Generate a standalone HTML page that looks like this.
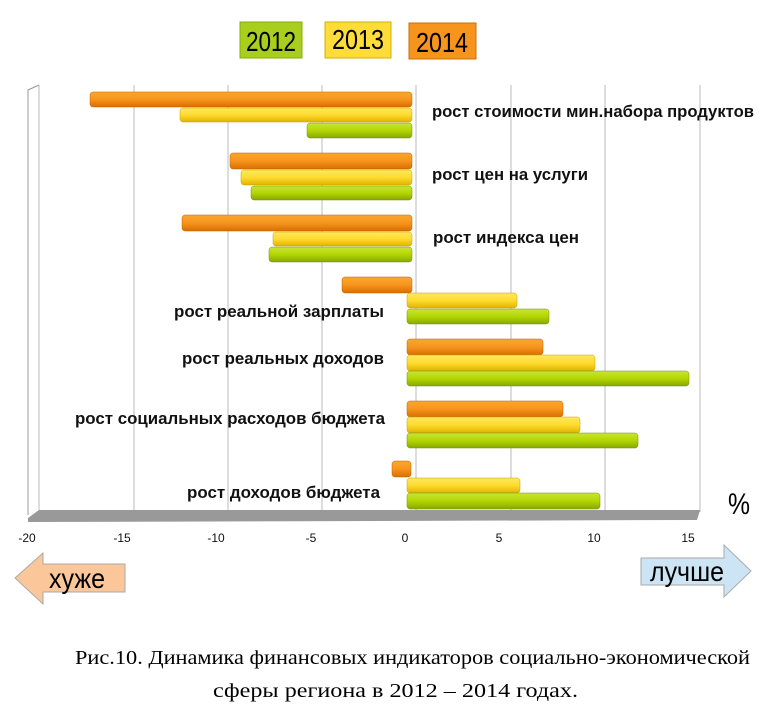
<!DOCTYPE html><html><head><meta charset="utf-8"><style>
body{margin:0;width:782px;height:720px;background:#fff;overflow:hidden;font-family:"Liberation Sans",sans-serif}
</style></head><body>
<svg width="782" height="720" xmlns="http://www.w3.org/2000/svg" style="position:absolute;left:0;top:0">
<defs>
<linearGradient id="o" x1="0" y1="0" x2="0" y2="1"><stop offset="0" stop-color="#f9a830"/><stop offset="0.5" stop-color="#f7941d"/><stop offset="1" stop-color="#d86f00"/></linearGradient>
<linearGradient id="y" x1="0" y1="0" x2="0" y2="1"><stop offset="0" stop-color="#ffe860"/><stop offset="0.5" stop-color="#fedb2e"/><stop offset="1" stop-color="#e0b400"/></linearGradient>
<linearGradient id="g" x1="0" y1="0" x2="0" y2="1"><stop offset="0" stop-color="#c8e43a"/><stop offset="0.5" stop-color="#b3d600"/><stop offset="1" stop-color="#88a800"/></linearGradient>
</defs>
<rect x="240" y="22" width="62" height="36" fill="#a8cf1e" stroke="#8aa800"/>
<text x="246" y="51" font-size="28" textLength="50" lengthAdjust="spacingAndGlyphs">2012</text>
<rect x="325" y="22" width="66" height="36" fill="#fedd3a" stroke="#d0b000"/>
<text x="332" y="49" font-size="28" textLength="52" lengthAdjust="spacingAndGlyphs">2013</text>
<rect x="409" y="23" width="67" height="36" fill="#f7941d" stroke="#c87000"/>
<text x="416" y="52" font-size="28" textLength="52" lengthAdjust="spacingAndGlyphs">2014</text>
<polyline points="28,515 28,90 39,85" fill="none" stroke="#999"/>
<g stroke="#bbb"><line x1="39" y1="85" x2="39" y2="512"/><line x1="134" y1="85" x2="134" y2="512"/><line x1="228" y1="85" x2="228" y2="512"/><line x1="322" y1="85" x2="322" y2="512"/><line x1="416" y1="85" x2="416" y2="512"/><line x1="511" y1="85" x2="511" y2="512"/><line x1="605" y1="85" x2="605" y2="512"/><line x1="700" y1="85" x2="700" y2="512"/></g>
<polygon points="28,518 39,510 700,510 697,520 28,522" fill="#999"/>
<g stroke-width="0.5">
<rect x="90" y="92" width="322" height="15" rx="3" fill="url(#o)" stroke="#c06000"/>
<rect x="180" y="108" width="232" height="14" rx="3" fill="url(#y)" stroke="#c9a000"/>
<rect x="307" y="123" width="105" height="15" rx="3" fill="url(#g)" stroke="#779000"/>
<rect x="230" y="153" width="182" height="16" rx="3" fill="url(#o)" stroke="#c06000"/>
<rect x="241" y="170" width="171" height="15" rx="3" fill="url(#y)" stroke="#c9a000"/>
<rect x="251" y="186" width="161" height="14" rx="3" fill="url(#g)" stroke="#779000"/>
<rect x="182" y="215" width="230" height="16" rx="3" fill="url(#o)" stroke="#c06000"/>
<rect x="273" y="232" width="139" height="14" rx="3" fill="url(#y)" stroke="#c9a000"/>
<rect x="269" y="247" width="143" height="15" rx="3" fill="url(#g)" stroke="#779000"/>
<rect x="342" y="277" width="70" height="16" rx="3" fill="url(#o)" stroke="#c06000"/>
<rect x="407" y="293" width="110" height="15" rx="3" fill="url(#y)" stroke="#c9a000"/>
<rect x="407" y="309" width="142" height="15" rx="3" fill="url(#g)" stroke="#779000"/>
<rect x="407" y="339" width="136" height="16" rx="3" fill="url(#o)" stroke="#c06000"/>
<rect x="407" y="355" width="188" height="16" rx="3" fill="url(#y)" stroke="#c9a000"/>
<rect x="407" y="371" width="282" height="15" rx="3" fill="url(#g)" stroke="#779000"/>
<rect x="407" y="401" width="156" height="16" rx="3" fill="url(#o)" stroke="#c06000"/>
<rect x="407" y="417" width="173" height="16" rx="3" fill="url(#y)" stroke="#c9a000"/>
<rect x="407" y="433" width="231" height="15" rx="3" fill="url(#g)" stroke="#779000"/>
<rect x="392" y="461" width="19" height="16" rx="3" fill="url(#o)" stroke="#c06000"/>
<rect x="407" y="478" width="113" height="15" rx="3" fill="url(#y)" stroke="#c9a000"/>
<rect x="407" y="493" width="193" height="16" rx="3" fill="url(#g)" stroke="#779000"/>
</g>
<g font-size="17" font-weight="bold" fill="#111">
<text x="432" y="117" textLength="322" lengthAdjust="spacingAndGlyphs">рост стоимости мин.набора продуктов</text>
<text x="432" y="180" textLength="156" lengthAdjust="spacingAndGlyphs">рост цен на услуги</text>
<text x="433" y="243" textLength="146" lengthAdjust="spacingAndGlyphs">рост индекса цен</text>
<text x="174" y="317" textLength="210" lengthAdjust="spacingAndGlyphs">рост реальной зарплаты</text>
<text x="182" y="364" textLength="202" lengthAdjust="spacingAndGlyphs">рост реальных доходов</text>
<text x="75" y="424" textLength="310" lengthAdjust="spacingAndGlyphs">рост социальных расходов бюджета</text>
<text x="187" y="498" textLength="193" lengthAdjust="spacingAndGlyphs">рост доходов бюджета</text>
</g>
<text x="739" y="514" font-size="30" text-anchor="middle" textLength="22" lengthAdjust="spacingAndGlyphs">%</text>
<g font-size="12" text-anchor="middle" fill="#111">
<text x="27" y="542">-20</text><text x="122" y="542">-15</text><text x="216" y="542">-10</text><text x="311" y="542">-5</text><text x="405" y="542">0</text><text x="499" y="542">5</text><text x="594" y="542">10</text><text x="688" y="542">15</text>
</g>
<polygon points="15,578 43,553 43,564 125,564 125,592 43,592 43,604" fill="#fbc79a" stroke="#aaa"/>
<text x="49" y="588" font-size="28" textLength="56" lengthAdjust="spacingAndGlyphs">хуже</text>
<polygon points="641,558 724,558 724,545 751,571 724,597 724,585 641,585" fill="#cce4f4" stroke="#aaa"/>
<text x="650" y="581" font-size="28" textLength="74" lengthAdjust="spacingAndGlyphs">лучше</text>
<g font-family="Liberation Serif, serif" font-size="20">
<text x="75" y="664" textLength="675" lengthAdjust="spacingAndGlyphs">Рис.10. Динамика финансовых индикаторов социально-экономической</text>
<text x="213" y="697" textLength="365" lengthAdjust="spacingAndGlyphs">сферы региона в 2012 – 2014 годах.</text>
</g>
</svg>
</body></html>
